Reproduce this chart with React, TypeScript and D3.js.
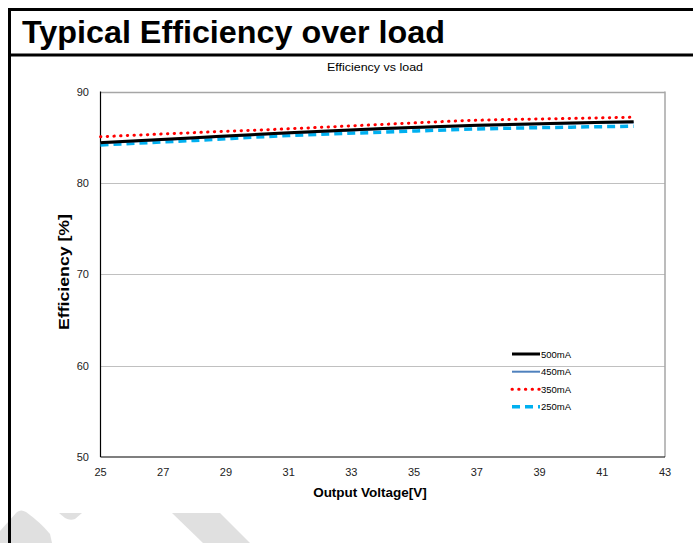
import React from "react";
import * as d3 from "d3";

const voltages = [25, 28, 31, 34, 37, 40, 42];
const eff500 = [84.4, 84.95, 85.48, 85.95, 86.3, 86.55, 86.68];
const eff450 = [84.33, 84.88, 85.42, 85.9, 86.25, 86.5, 86.62];
const eff350 = [85.05, 85.5, 85.92, 86.4, 86.85, 87.05, 87.18];
const eff250 = [84.15, 84.65, 85.18, 85.55, 85.9, 86.1, 86.2];
const seriesNames = ["500mA", "450mA", "350mA", "250mA"];
const xTicks = [25, 27, 29, 31, 33, 35, 37, 39, 41, 43];
const yTicks = [50, 60, 70, 80, 90];

const W = 693;
const H = 543;
const FONT = "Arial, 'Liberation Sans', sans-serif";

export default function App() {
  const x = d3.scaleLinear().domain([25, 43]).range([100.5, 665]);
  const y = d3.scaleLinear().domain([50, 90]).range([457, 91.5]);

  const styles = [
    { data: eff500, stroke: "#000000", width: 3, dash: "", cap: "butt" },
    { data: eff450, stroke: "#4f81bd", width: 2, dash: "", cap: "butt" },
    { data: eff350, stroke: "#ff0000", width: 3, dash: "0.4 6.3", cap: "round" },
    { data: eff250, stroke: "#00b0f0", width: 3.5, dash: "8 5", cap: "butt" },
  ];

  const line = d3
    .line<[number, number]>()
    .x((d) => x(d[0]))
    .y((d) => y(d[1]))
    .curve(d3.curveMonotoneX);

  const drawOrder = [3, 1, 0, 2];
  const legendY = [354, 371.7, 389.3, 406.7];

  return (
    <svg
      width={W}
      height={H}
      style={{ position: "absolute", left: 0, top: 0, background: "#fff" }}
      fontFamily={FONT}
    >
      <rect x={0} y={0} width={W} height={H} fill="#fff" />
      {/* watermark decoration */}
      <g fill="#e0e0e0">
        <path d="M0,531 L17,512 Q21,509 26,512 Q40,522 50,534 L52,543 L0,543 Z" />
        <path d="M59,513 L82,513 L75,519 Q70,521 65,518 Z" />
        <path d="M172,513 L220,513 L250,543 L203,543 Z" />
      </g>
      {/* frame */}
      <line x1={9.5} x2={9.5} y1={8} y2={H} stroke="#000" strokeWidth={3} />
      <line x1={8} x2={W} y1={9.5} y2={9.5} stroke="#000" strokeWidth={3} />
      <line x1={8} x2={W} y1={55} y2={55} stroke="#000" strokeWidth={3} />
      <text
        x={22}
        y={43}
        fontSize={31}
        fontWeight="bold"
        fill="#000"
        textLength={423}
        lengthAdjust="spacingAndGlyphs"
      >
        Typical Efficiency over load
      </text>

      <text
        x={375}
        y={71}
        fontSize={10.5}
        textAnchor="middle"
        fill="#000"
        textLength={96}
        lengthAdjust="spacingAndGlyphs"
      >
        Efficiency vs load
      </text>

      {/* grid */}
      {yTicks.slice(1).map((t) => (
        <line
          key={t}
          x1={x(25)}
          x2={x(43)}
          y1={Math.round(y(t)) + 0.5}
          y2={Math.round(y(t)) + 0.5}
          stroke={t === 90 ? "#a6a6a6" : "#c0c0c0"}
          strokeWidth={t === 90 ? 1.5 : 1}
        />
      ))}
      <line x1={x(43)} x2={x(43)} y1={y(90)} y2={y(50)} stroke="#a6a6a6" strokeWidth={1.5} />
      <line x1={x(25)} x2={x(25)} y1={y(90)} y2={y(50)} stroke="#000" strokeWidth={1.2} />
      <line x1={x(25)} x2={x(43)} y1={y(50)} y2={y(50)} stroke="#000" strokeWidth={1.2} />

      {/* tick labels */}
      {yTicks.map((t) => (
        <text key={t} x={89} y={y(t) + 4} fontSize={11} textAnchor="end" fill="#222">
          {t}
        </text>
      ))}
      {xTicks.map((t) => (
        <text key={t} x={x(t)} y={476} fontSize={11} textAnchor="middle" fill="#222">
          {t}
        </text>
      ))}

      <text
        x={370}
        y={497}
        fontSize={13.5}
        fontWeight="bold"
        textAnchor="middle"
        fill="#000"
      >
        Output Voltage[V]
      </text>
      <text
        transform="translate(69,272) rotate(-90)"
        fontSize={14.5}
        fontWeight="bold"
        textAnchor="middle"
        fill="#000"
        textLength={116}
        lengthAdjust="spacingAndGlyphs"
      >
        Efficiency [%]
      </text>

      {/* series */}
      {drawOrder.map((i) => {
        const s = styles[i];
        const pts = voltages.map((v, k) => [v, s.data[k]] as [number, number]);
        return (
          <path
            key={i}
            d={line(pts) || ""}
            fill="none"
            stroke={s.stroke}
            strokeWidth={s.width}
            strokeDasharray={s.dash || undefined}
            strokeLinecap={s.cap as any}
          />
        );
      })}

      {/* legend */}
      {seriesNames.map((n, i) => {
        const s = styles[i];
        return (
          <g key={n}>
            <line
              x1={512}
              x2={540}
              y1={legendY[i]}
              y2={legendY[i]}
              stroke={s.stroke}
              strokeWidth={s.width}
              strokeDasharray={s.dash || undefined}
              strokeLinecap={s.cap as any}
            />
            <text x={541} y={legendY[i] + 3.5} fontSize={9.5} fill="#000">
              {n}
            </text>
          </g>
        );
      })}
    </svg>
  );
}
